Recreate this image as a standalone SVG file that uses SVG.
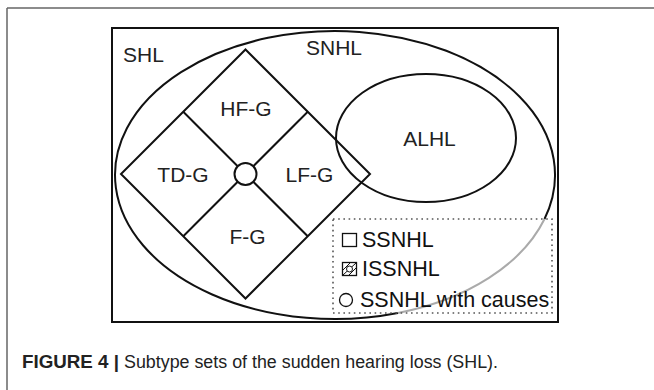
<svg xmlns="http://www.w3.org/2000/svg" width="654" height="390" viewBox="0 0 654 390">
<style>
.ln{fill:none;stroke:#111;stroke-width:2}
.lbl{font-family:"Liberation Sans",Arial,sans-serif;font-size:21px;fill:#222}
.leg{font-family:"Liberation Sans",Arial,sans-serif;font-size:21.5px;fill:#111}
.cap{font-family:"Liberation Sans",Arial,sans-serif;font-size:17.5px;fill:#222}
</style>
<rect width="654" height="390" fill="#fff"/>
<g id="page-frame">
<line x1="7" y1="8" x2="654" y2="8" stroke="#666" stroke-width="1.5"/>
<line x1="7" y1="8" x2="7" y2="390" stroke="#666" stroke-width="1.5"/>
</g>
<g id="SHL">
<rect class="ln" x="112" y="28" width="446" height="294"/>
<text class="lbl" x="123" y="62" font-size="20.5">SHL</text>
</g>
<g id="SNHL">
<path class="ln" d="M397.9,313 A220,144 0 1 1 544.5,219"/>
<path fill="none" stroke="#aaa" stroke-width="2" d="M544.5,219 A220,144 0 0 1 397.9,313"/>
<text class="lbl" x="306" y="55" font-size="20.5">SNHL</text>
</g>
<g id="ALHL">
<ellipse class="ln" cx="426" cy="138" rx="90" ry="64"/>
<text class="lbl" x="429.5" y="146" text-anchor="middle">ALHL</text>
</g>
<g id="SSNHL-diamond">
<polygon class="ln" points="245.5,49.5 370,174 245.5,298.5 121,174"/>
<circle class="ln" cx="245.5" cy="174" r="11"/>
</g>
<g id="connectors">
<line class="ln" x1="183.25" y1="111.75" x2="237.7" y2="166.2"/>
<line class="ln" x1="307.75" y1="111.75" x2="253.3" y2="166.2"/>
<line class="ln" x1="307.75" y1="236.25" x2="253.3" y2="181.8"/>
<line class="ln" x1="183.25" y1="236.25" x2="237.7" y2="181.8"/>
</g>
<g id="HF-G"><text class="lbl" x="246" y="116" text-anchor="middle">HF-G</text></g>
<g id="TD-G"><text class="lbl" x="183" y="182" text-anchor="middle">TD-G</text></g>
<g id="LF-G"><text class="lbl" x="309.5" y="182" text-anchor="middle">LF-G</text></g>
<g id="F-G"><text class="lbl" x="247.5" y="244" text-anchor="middle">F-G</text></g>
<g id="legend">
<rect x="333" y="219" width="219" height="94" fill="none" stroke="#555" stroke-width="1.6" stroke-dasharray="1.6,3.6"/>
<rect x="342.5" y="233.5" width="14" height="13" fill="#fff" stroke="#111" stroke-width="1.3"/>
<text class="leg" x="362" y="247">SSNHL</text>
<rect x="342.5" y="262.5" width="14" height="13" fill="#fff" stroke="#111" stroke-width="1.3"/>
<line x1="343" y1="270" x2="350" y2="263" stroke="#111" stroke-width="1"/>
<line x1="343" y1="275" x2="356" y2="263" stroke="#111" stroke-width="1"/>
<line x1="349" y1="275" x2="356" y2="268" stroke="#111" stroke-width="1"/>
<circle cx="349.5" cy="269" r="3" fill="#fff" stroke="#111" stroke-width="1"/>
<text class="leg" x="362" y="276">ISSNHL</text>
<circle cx="346" cy="300" r="6.5" fill="none" stroke="#111" stroke-width="1.3"/>
<text class="leg" x="360" y="307">SSNHL with causes</text>
</g>
<g id="caption">
<text class="cap" x="22" y="368" font-weight="bold" textLength="97" lengthAdjust="spacingAndGlyphs">FIGURE 4 |</text>
<text class="cap" x="124" y="368" textLength="374" lengthAdjust="spacingAndGlyphs">Subtype sets of the sudden hearing loss (SHL).</text>
</g>
</svg>
